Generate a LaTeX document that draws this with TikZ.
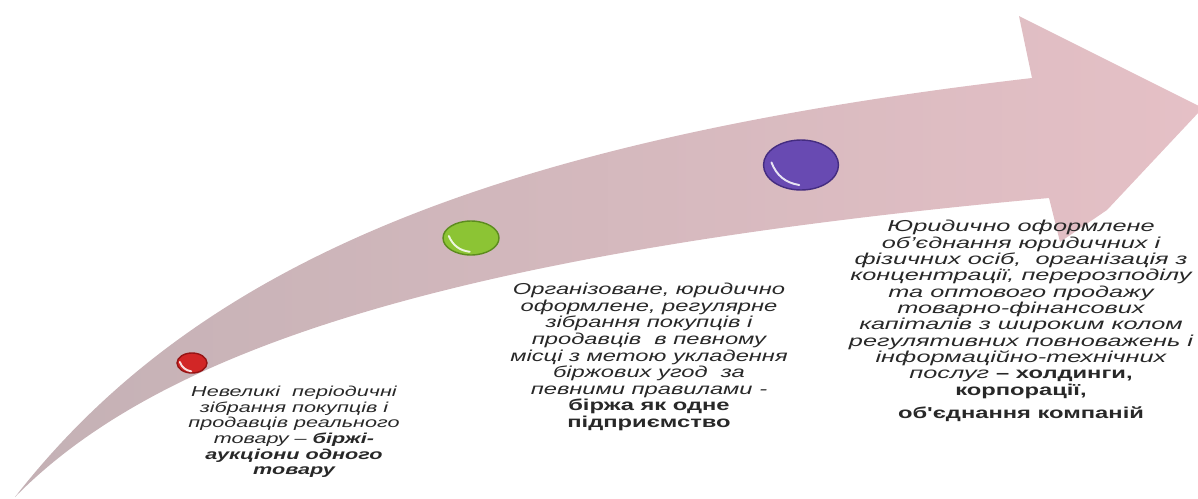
\documentclass[tikz,border=0pt]{standalone}
\usepackage{fontspec}
\setmainfont{Liberation Sans}
\newfontfamily\widefont[FakeStretch=1.5]{Liberation Sans}
\newfontfamily\widerfont[FakeStretch=1.6]{Liberation Sans}
\usetikzlibrary{shapes.geometric,calc}
\definecolor{arrowA}{RGB}{196,177,181}
\definecolor{arrowB}{RGB}{229,192,198}
\definecolor{redA}{RGB}{210,38,38}
\definecolor{redB}{RGB}{150,20,20}
\definecolor{greenA}{RGB}{140,196,52}
\definecolor{greenB}{RGB}{92,140,30}
\definecolor{purpA}{RGB}{104,74,178}
\definecolor{purpB}{RGB}{68,44,128}
\definecolor{txt}{RGB}{40,40,40}
\begin{document}
\begin{tikzpicture}[x=0.02cm,y=-0.02cm,
  dotball/.style={ellipse, draw=#1, line width=0.8pt, inner sep=0pt},
  lbl/.style={align=center, text=txt, inner sep=0pt},
  shine/.style={white, opacity=0.85, line width=1.1pt, line cap=round}]
\useasboundingbox (0,0) rectangle (1198,498);
% arrow body
\coordinate (tail) at (15,497);
\coordinate (nu) at (1032,78);
\coordinate (bu) at (1019,16);
\coordinate (tip1) at (1199,106);
\coordinate (tip2) at (1199,112);
\coordinate (hl) at (1107,210);
\coordinate (bl) at (1060,242);
\coordinate (nl) at (1049,198);
\shade[left color=arrowA, right color=arrowB]
  (tail) .. controls (200,260) and (500,140) .. (nu)
  -- (bu) -- (tip1) -- (tip2) -- (hl) -- (bl) -- (nl)
  .. controls (420,255) and (150,360) .. (tail) -- cycle;
% dots
\node[dotball=redB, fill=redA, minimum width=0.6cm, minimum height=0.4cm] (d1) at (192,363) {};
\node[dotball=greenB, fill=greenA, minimum width=1.12cm, minimum height=0.68cm] (d2) at (471,238) {};
\node[dotball=purpB, fill=purpA, minimum width=1.5cm, minimum height=1.0cm] (d3) at (801,165) {};
\foreach \n in {d1,d2,d3}
  \draw[shine] ($(\n.center)!0.78!(\n.175)$) to[bend right=30] ($(\n.center)!0.78!(\n.265)$);
% texts
\node[lbl, font={\widefont\fontsize{8.2}{8.9}\selectfont\itshape}] (t1) at (294,432)
  {Невеликі\ \ періодичні\\ зібрання покупців і\\ продавців реального\\ товару – \textbf{біржі-}\\ \textbf{аукціони одного}\\ \textbf{товару}};
\node[lbl, font={\widefont\fontsize{9}{9.45}\selectfont\itshape}] (t2) at (649,357)
  {Організоване, юридично\\ оформлене, регулярне\\ зібрання покупців і\\ продавців\ \ в певному\\ місці з метою укладення\\ біржових угод\ \ за\\ певними правилами -\\ {\widefont\upshape\bfseries біржа як одне}\\ {\widefont\upshape\bfseries підприємство}};
\node[lbl, font={\widerfont\fontsize{9}{9.3}\selectfont\itshape}] (t3) at (1021,321)
  {Юридично оформлене\\ об’єднання юридичних і\\ фізичних осіб,\ \ організація з\\ концентрації, перерозподілу\\ та оптового продажу\\ товарно-фінансових\\ капіталів з широким колом\\ регулятивних повноважень і\\ інформаційно-технічних\\ послуг {\widefont\upshape\bfseries – холдинги,}\\ {\widefont\upshape\bfseries корпорації,}\\[4pt] {\widefont\upshape\bfseries об'єднання компаній}};
\end{tikzpicture}
\end{document}
